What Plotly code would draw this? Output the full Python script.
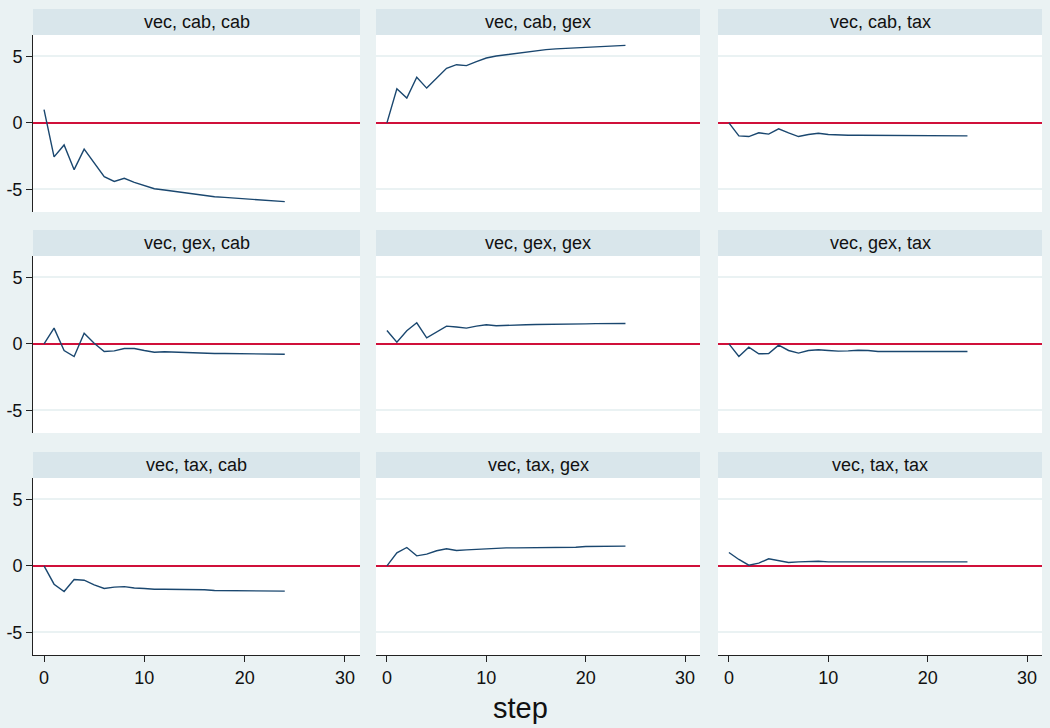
import plotly.graph_objects as go

steps = list(range(25))

titles = [
    "vec, cab, cab", "vec, cab, gex", "vec, cab, tax",
    "vec, gex, cab", "vec, gex, gex", "vec, gex, tax",
    "vec, tax, cab", "vec, tax, gex", "vec, tax, tax",
]

cab_cab = [1.0, -2.56, -1.66, -3.52, -1.98, -3.05, -4.05, -4.4, -4.17, -4.47, -4.72,
           -4.95, -5.05, -5.15, -5.28, -5.38, -5.48, -5.55, -5.6, -5.65, -5.7, -5.75,
           -5.82, -5.85, -5.92]
cab_gex = [0.0, 2.56, 1.86, 3.42, 2.61, 3.37, 4.1, 4.37, 4.3, 4.6, 4.87,
           5.02, 5.12, 5.22, 5.32, 5.42, 5.5, 5.56, 5.6, 5.64, 5.66, 5.7,
           5.75, 5.78, 5.82]
cab_tax = [0.0, -0.98, -1.03, -0.75, -0.85, -0.45, -0.75, -1.03, -0.88, -0.78, -0.88,
           -0.93, -0.93, -0.93, -0.93, -0.93, -0.98, -0.98, -0.98, -0.98, -0.98, -0.98,
           -0.98, -0.98, -0.98]
gex_cab = [0.0, 1.18, -0.5, -0.95, 0.8, 0.05, -0.58, -0.53, -0.35, -0.35, -0.5,
           -0.63, -0.6, -0.63, -0.63, -0.68, -0.73, -0.73, -0.73, -0.73, -0.73, -0.73,
           -0.78, -0.78, -0.78]
gex_gex = [1.0, 0.13, 0.98, 1.58, 0.45, 0.88, 1.33, 1.26, 1.18, 1.33, 1.43,
           1.36, 1.4, 1.43, 1.43, 1.45, 1.45, 1.47, 1.5, 1.5, 1.5, 1.52,
           1.52, 1.53, 1.53]
gex_tax = [0.0, -0.95, -0.25, -0.75, -0.73, -0.1, -0.5, -0.7, -0.5, -0.45, -0.5,
           -0.55, -0.53, -0.48, -0.5, -0.58, -0.58, -0.58, -0.58, -0.58, -0.58, -0.58,
           -0.58, -0.58, -0.58]
tax_cab = [0.0, -1.38, -1.93, -1.03, -1.08, -1.43, -1.7, -1.6, -1.56, -1.66, -1.7,
           -1.76, -1.76, -1.76, -1.8, -1.8, -1.8, -1.85, -1.85, -1.85, -1.85, -1.85,
           -1.85, -1.85, -1.9]
tax_gex = [0.0, 0.98, 1.38, 0.75, 0.88, 1.13, 1.28, 1.15, 1.2, 1.25, 1.3,
           1.3, 1.35, 1.35, 1.35, 1.4, 1.4, 1.4, 1.4, 1.4, 1.45, 1.45,
           1.45, 1.45, 1.48]
tax_tax = [1.0, 0.48, 0.05, 0.2, 0.53, 0.4, 0.25, 0.3, 0.35, 0.35, 0.3,
           0.3, 0.3, 0.3, 0.3, 0.3, 0.3, 0.3, 0.3, 0.3, 0.3, 0.3,
           0.3, 0.3, 0.3]

series = [cab_cab, cab_gex, cab_tax, gex_cab, gex_gex, gex_tax, tax_cab, tax_gex, tax_tax]

x_ticks = [0, 10, 20, 30]
y_ticks = [-5, 0, 5]
y_ticklabels = ["-5", "0", "5"]

W, H = 1050, 728
BG = "#eaf2f3"
STRIP = "#d9e6eb"
LINE = "#1a476f"
REF = "#d0103a"
FONT = "Liberation Sans, Arial, sans-serif"

col_px = [(33, 360), (376, 700), (718, 1042)]
row_px = [(35, 212), (256, 433), (478, 655)]
strip_h = 26

fig = go.Figure()
layout = dict(
    width=W, height=H,
    margin=dict(l=0, r=0, t=0, b=0),
    paper_bgcolor=BG, plot_bgcolor="white",
    showlegend=False,
    font=dict(family=FONT, color="#111111"),
)
shapes = []
annotations = []

for i in range(9):
    r, c = divmod(i, 3)
    n = "" if i == 0 else str(i + 1)
    x0, x1 = col_px[c]
    y0, y1 = row_px[r]
    xd = [x0 / W, x1 / W]
    yd = [1 - y1 / H, 1 - y0 / H]
    fig.add_trace(go.Scatter(
        x=steps, y=series[i], mode="lines",
        line=dict(color=LINE, width=1.4),
        xaxis="x" + n, yaxis="y" + n, hoverinfo="skip",
    ))
    bottom = (r == 2)
    left = (c == 0)
    layout["xaxis" + n] = dict(
        domain=xd, anchor="y" + n, range=[-1.1, 31.5],
        tickvals=x_ticks, showticklabels=bottom,
        ticks="outside" if bottom else "", ticklen=6, tickcolor="#222222",
        showline=bottom, linecolor="#222222", linewidth=1,
        showgrid=False, zeroline=False,
        tickfont=dict(size=18, family=FONT, color="#111111"),
    )
    layout["yaxis" + n] = dict(
        domain=yd, anchor="x" + n, range=[-6.7, 6.6],
        tickvals=y_ticks, ticktext=y_ticklabels, showticklabels=left,
        ticks="outside" if left else "", ticklen=6, tickcolor="#222222",
        showline=left, linecolor="#222222", linewidth=1,
        showgrid=True, gridcolor=BG, gridwidth=1.5,
        zeroline=True, zerolinecolor=REF, zerolinewidth=1.5,
        tickfont=dict(size=18, family=FONT, color="#111111"),
    )
    # header strip
    shapes.append(dict(
        type="rect", xref="paper", yref="paper",
        x0=x0 / W, x1=x1 / W, y0=1 - y0 / H, y1=1 - (y0 - strip_h) / H,
        fillcolor=STRIP, line=dict(width=0), layer="below",
    ))
    annotations.append(dict(
        text=titles[i], xref="paper", yref="paper",
        x=(x0 + x1) / 2 / W, y=1 - (y0 - strip_h / 2) / H,
        xanchor="center", yanchor="middle", showarrow=False,
        font=dict(size=18, family=FONT, color="#111111"),
    ))

annotations.append(dict(
    text="step", xref="paper", yref="paper",
    x=520 / W, y=1 - 708 / H,
    xanchor="center", yanchor="middle", showarrow=False,
    font=dict(size=29, family=FONT, color="#111111"),
))

layout["shapes"] = shapes
layout["annotations"] = annotations
fig.update_layout(**layout)
fig.write_html("out.html")
